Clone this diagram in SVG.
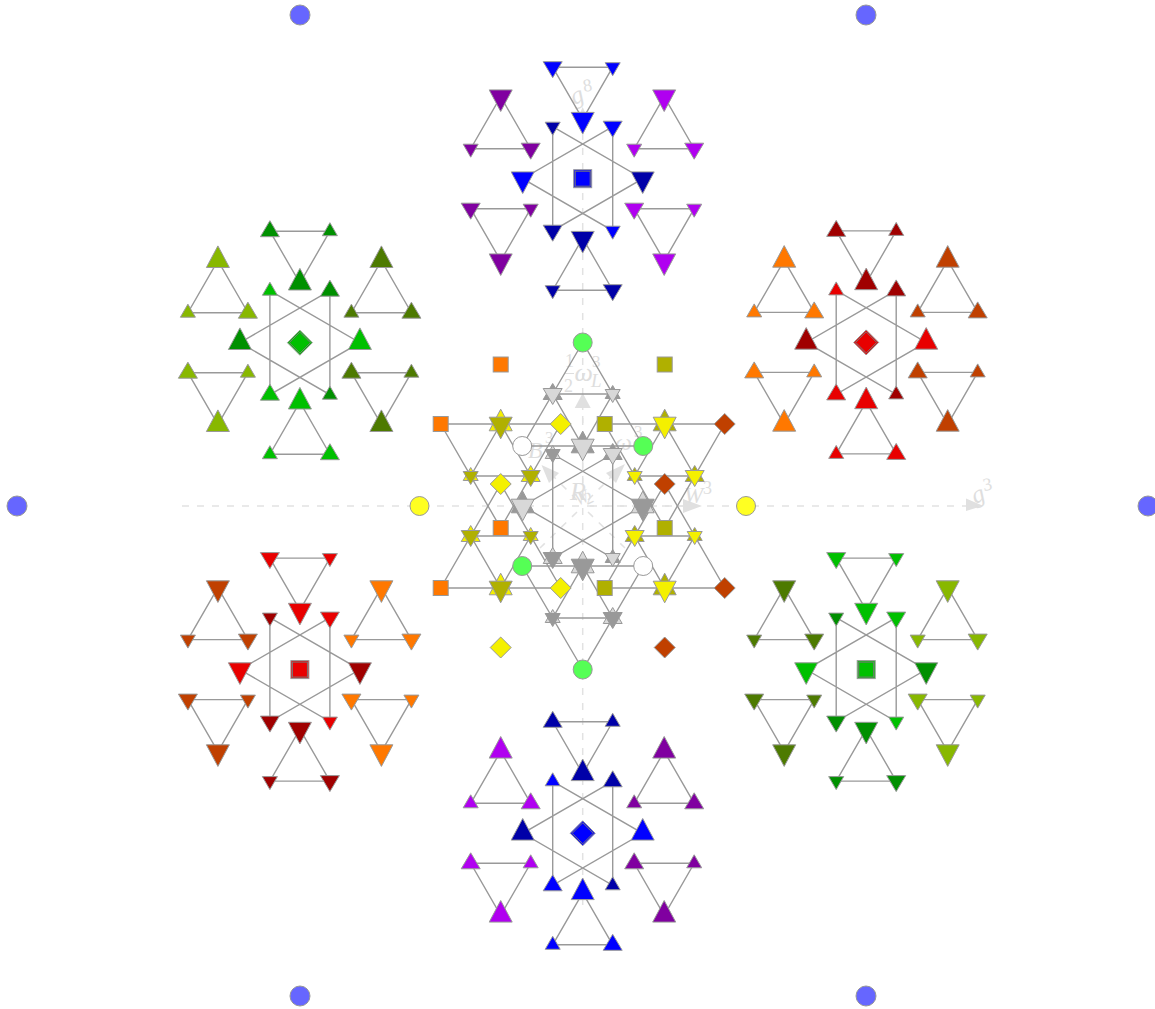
<svg xmlns="http://www.w3.org/2000/svg" width="1155" height="1009" viewBox="0 0 1155 1009">
<style>
.bg{fill:#fff}
.ax{fill:none;stroke:#e2e2e2;stroke-width:1.5;stroke-dasharray:7 8}
.ah{fill:#e0e0e0;stroke:none}
.lb{fill:#dedede;font-family:"Liberation Serif",serif;font-style:italic}
.nm{fill:#dedede;font-family:"Liberation Serif",serif}
.ed{fill:none;stroke:#999;stroke-width:1.4}
.sh{stroke:#999;stroke-width:1}
.in{stroke:none}
.mid{stroke:#777;stroke-width:1}
.blue{fill:#0000ff}.dblue{fill:#0000a8}.purple{fill:#8000a0}.magenta{fill:#b000f0}
.green{fill:#00c000}.dgreen{fill:#009000}.lime{fill:#88b800}.olgreen{fill:#4d7a00}
.red{fill:#e80000}.dred{fill:#a00000}.orange{fill:#ff7800}.rust{fill:#c04000}
.lg{fill:#d8d8d8}.dg{fill:#999}.ol{fill:#b0b000}.ye{fill:#f4f000}
.bc{fill:#6666ff}.gc{fill:#55ff55}.wc{fill:#fff}.yc{fill:#ffff22}
</style>
<defs>
<polygon id="dL" class="sh" points="-11.5,-6.8 11.5,-6.8 0,14.8"/>
<polygon id="dM" class="sh" points="-9.5,-5.5 9.5,-5.5 0,10.5"/>
<polygon id="dS" class="sh" points="-7.5,-4.5 7.5,-4.5 0,8.5"/>
<polygon id="uL" class="sh" points="-11.5,6.8 11.5,6.8 0,-14.8"/>
<polygon id="uM" class="sh" points="-9.5,5.5 9.5,5.5 0,-10.5"/>
<polygon id="uS" class="sh" points="-7.5,4.5 7.5,4.5 0,-8.5"/>
<rect id="sq" class="sh" x="-7.5" y="-7.5" width="15" height="15"/>
<polygon id="di" class="sh" points="0,-10.5 10.5,0 0,10.5 -10.5,0"/>
<circle id="cb" class="sh" r="10"/>
<circle id="cm" class="sh" r="9.5"/>
<g id="sq3"><rect class="sh" x="-9" y="-9" width="18" height="18"/><rect class="mid" x="-7.5" y="-7.5" width="15" height="15"/><rect class="in" x="-6.2" y="-6.2" width="12.4" height="12.4"/></g>
<g id="di3"><polygon class="sh" points="0,-12.5 12.5,0 0,12.5 -12.5,0"/><polygon class="mid" points="0,-10.5 10.5,0 0,10.5 -10.5,0"/><polygon class="in" points="0,-8.8 8.8,0 0,8.8 -8.8,0"/></g>
<path id="cluster-edges" d="M-30-111.5H30L0-59.5ZM-82-82L-112-30H-52ZM81.5-82L51.5-30H111.5ZM-112 30H-52L-82 82ZM51.5 30H111.5L81.5 82ZM0 59.5L-30 111.5H30ZM30-52L-60 0L30 52ZM-30-52L60 0L-30 52Z"/>
</defs>
<rect class="bg" width="1155" height="1009"/>

<g id="axes">
<path class="ax" d="M182 506H968"/>
<path class="ax" d="M582.7 905V120"/>
<path class="ax" d="M582.7 498V408M590 506H684M577 500L553 476M588 500L612 476M577 512L540 548M588 512L625 548"/>
<polygon class="ah" points="983,505.8 966,498.5 966,511"/>
<polygon class="ah" points="582.7,393 574.7,408 590.7,408"/>
<polygon class="ah" points="702,506 683,499 683,513"/>
<polygon class="ah" points="541.5,465 549,483 559,473"/>
<polygon class="ah" points="625,464 606,473 616,483"/>
<polygon class="ah" points="582.7,107 577,120 588.4,120"/>
</g>
<g id="labels">
<text class="lb" transform="translate(975 504) rotate(-22)" font-size="25">g</text>
<text class="nm" transform="translate(984 491) rotate(-10)" font-size="18">3</text>
<text class="lb" transform="translate(574 105) rotate(-22)" font-size="25">g</text>
<text class="nm" transform="translate(584 92) rotate(-10)" font-size="18">8</text>
<text class="nm" x="565" y="367" font-size="18">1</text>
<path d="M565 373.5H574" stroke="#dedede" fill="none"/>
<text class="nm" x="564" y="392" font-size="18">2</text>
<text class="lb" x="574.5" y="381" font-size="26">ω</text>
<text class="nm" x="592" y="367" font-size="17">3</text>
<text class="lb" x="591" y="387" font-size="19">L</text>
<text class="lb" x="528" y="458" font-size="24">B</text>
<text class="nm" x="545" y="443" font-size="17">3</text>
<text class="lb" x="615" y="450" font-size="24">ω</text>
<text class="nm" x="634" y="437" font-size="17">3</text>
<text class="lb" x="684" y="503" font-size="23">W</text>
<text class="nm" x="703" y="494" font-size="18">3</text>
<text class="lb" transform="translate(570 500)" font-size="26">R</text>
<text class="lb" transform="translate(578 506) rotate(-25) scale(.9 1)" font-size="18">W</text>
<text class="nm" transform="translate(587 505) rotate(-25)" font-size="17">2</text>
</g>

<g id="connectors" class="ed">
<use href="#cluster-edges" transform="translate(582.7 178.7)"/>
<use href="#cluster-edges" transform="translate(582.7 833.3)"/>
<use href="#cluster-edges" transform="translate(299.9 342.7)"/>
<use href="#cluster-edges" transform="translate(866.2 342.4)"/>
<use href="#cluster-edges" transform="translate(299.9 669.6)"/>
<use href="#cluster-edges" transform="translate(866.2 669.6)"/>
<path d="M612.7 454L522.7 506L612.7 558ZM552.7 454L642.7 506L552.7 558Z"/>
<path d="M582.7 342.5L522.2 446H643.2ZM552.7 394H612.7L582.7 446Z"/>
<path d="M582.7 669.5L522.2 566H643.2ZM552.7 618H612.7L582.7 566Z"/>
<path d="M440.7 424H560.7L500.7 528ZM500.7 424L470.7 476H530.7Z"/>
<path d="M604.7 424H724.7L664.7 528ZM664.7 424L634.7 476H694.7Z"/>
<path d="M500.7 484L440.7 588H560.7ZM470.7 536H530.7L500.7 588Z"/>
<path d="M664.7 484L604.7 588H724.7ZM634.7 536H694.7L664.7 588Z"/>
</g>

<g id="outer-points">
<g id="bc1"><use href="#cb" class="bc" x="300" y="15"/></g>
<g id="bc2"><use href="#cb" class="bc" x="866" y="15"/></g>
<g id="bc3"><use href="#cb" class="bc" x="17" y="506"/></g>
<g id="bc4"><use href="#cb" class="bc" x="1148" y="506"/></g>
<g id="bc5"><use href="#cb" class="bc" x="300" y="996"/></g>
<g id="bc6"><use href="#cb" class="bc" x="866" y="996"/></g>
<g id="yc1"><use href="#cm" class="yc" x="419.5" y="506"/></g>
<g id="yc2"><use href="#cm" class="yc" x="746" y="506"/></g>
<g id="gc1"><use href="#cm" class="gc" x="582.7" y="342.5"/></g>
<g id="gc2"><use href="#cm" class="gc" x="582.7" y="669.5"/></g>
<g id="wc1"><use href="#cm" class="wc" x="522.2" y="446"/></g>
<g id="gc3"><use href="#cm" class="gc" x="643.2" y="446"/></g>
<g id="gc4"><use href="#cm" class="gc" x="522.2" y="566"/></g>
<g id="wc2"><use href="#cm" class="wc" x="643.2" y="566"/></g>
<g id="s1"><use href="#sq" class="orange" x="500.7" y="364.5"/></g>
<g id="s2"><use href="#sq" class="ol" x="664.7" y="364.5"/></g>
<g id="s3"><use href="#sq" class="orange" x="440.7" y="424"/></g>
<g id="s4"><use href="#sq" class="ol" x="604.7" y="424"/></g>
<g id="s5"><use href="#sq" class="orange" x="500.7" y="528"/></g>
<g id="s6"><use href="#sq" class="ol" x="664.7" y="528"/></g>
<g id="s7"><use href="#sq" class="orange" x="440.7" y="588"/></g>
<g id="s8"><use href="#sq" class="ol" x="604.7" y="588"/></g>
<g id="d1"><use href="#di" class="ye" x="560.7" y="424"/></g>
<g id="d2"><use href="#di" class="rust" x="724.7" y="424"/></g>
<g id="d3"><use href="#di" class="ye" x="500.7" y="484"/></g>
<g id="d4"><use href="#di" class="rust" x="664.7" y="484"/></g>
<g id="d5"><use href="#di" class="ye" x="560.7" y="588"/></g>
<g id="d6"><use href="#di" class="rust" x="724.7" y="588"/></g>
<g id="d7"><use href="#di" class="ye" x="500.7" y="647.5"/></g>
<g id="d8"><use href="#di" class="rust" x="664.7" y="647.5"/></g>
</g>

<g id="centre-grey">
<g id="cg1"><use href="#uM" class="dg" x="552.7" y="394"/><use href="#dM" class="lg" x="552.7" y="394"/></g>
<g id="cg2"><use href="#uS" class="dg" x="612.7" y="394"/><use href="#dS" class="lg" x="612.7" y="394"/></g>
<g id="cg3"><use href="#uL" class="dg" x="582.7" y="446"/><use href="#dL" class="lg" x="582.7" y="446"/></g>
<g id="cg4"><use href="#uS" class="lg" x="552.7" y="454"/><use href="#dS" class="dg" x="552.7" y="454"/></g>
<g id="cg5"><use href="#uM" class="dg" x="612.7" y="454"/><use href="#dM" class="lg" x="612.7" y="454"/></g>
<g id="cg6"><use href="#uL" class="dg" x="522.7" y="506"/><use href="#dL" class="lg" x="522.7" y="506"/></g>
<g id="cg7"><use href="#uL" class="lg" x="642.7" y="506"/><use href="#dL" class="dg" x="642.7" y="506"/></g>
<g id="cg8"><use href="#uM" class="lg" x="552.7" y="558"/><use href="#dM" class="dg" x="552.7" y="558"/></g>
<g id="cg9"><use href="#uS" class="dg" x="612.7" y="558"/><use href="#dS" class="lg" x="612.7" y="558"/></g>
<g id="cg10"><use href="#uL" class="lg" x="582.7" y="566"/><use href="#dL" class="dg" x="582.7" y="566"/></g>
<g id="cg11"><use href="#uS" class="lg" x="552.7" y="618"/><use href="#dS" class="dg" x="552.7" y="618"/></g>
<g id="cg12"><use href="#uM" class="lg" x="612.7" y="618"/><use href="#dM" class="dg" x="612.7" y="618"/></g>
</g>

<g id="centre-yellow">
<g id="cy1"><use href="#uL" class="ye" x="500.7" y="424"/><use href="#dL" class="ol" x="500.7" y="424"/></g>
<g id="cy2"><use href="#uS" class="ye" x="470.7" y="476"/><use href="#dS" class="ol" x="470.7" y="476"/></g>
<g id="cy3"><use href="#uM" class="ye" x="530.7" y="476"/><use href="#dM" class="ol" x="530.7" y="476"/></g>
<g id="cy4"><use href="#uL" class="ol" x="664.7" y="424"/><use href="#dL" class="ye" x="664.7" y="424"/></g>
<g id="cy5"><use href="#uS" class="ol" x="634.7" y="476"/><use href="#dS" class="ye" x="634.7" y="476"/></g>
<g id="cy6"><use href="#uM" class="ol" x="694.7" y="476"/><use href="#dM" class="ye" x="694.7" y="476"/></g>
<g id="cy7"><use href="#uM" class="ye" x="470.7" y="536"/><use href="#dM" class="ol" x="470.7" y="536"/></g>
<g id="cy8"><use href="#uS" class="ye" x="530.7" y="536"/><use href="#dS" class="ol" x="530.7" y="536"/></g>
<g id="cy9"><use href="#uL" class="ye" x="500.7" y="588"/><use href="#dL" class="ol" x="500.7" y="588"/></g>
<g id="cy10"><use href="#uM" class="ol" x="634.7" y="536"/><use href="#dM" class="ye" x="634.7" y="536"/></g>
<g id="cy11"><use href="#uS" class="ol" x="694.7" y="536"/><use href="#dS" class="ye" x="694.7" y="536"/></g>
<g id="cy12"><use href="#uL" class="ol" x="664.7" y="588"/><use href="#dL" class="ye" x="664.7" y="588"/></g>
</g>

<g id="cluster-top" transform="translate(582.7 178.7)">
<g id="t0"><use href="#sq3" class="blue"/></g>
<g id="t1"><use href="#dM" class="blue" x="-30" y="-111.5"/></g><g id="t2"><use href="#dS" class="blue" x="30" y="-111.5"/></g><g id="t3"><use href="#dL" class="blue" y="-59.5"/></g>
<g id="t4"><use href="#dL" class="purple" x="-82" y="-82"/></g><g id="t5"><use href="#dS" class="purple" x="-112" y="-30"/></g><g id="t6"><use href="#dM" class="purple" x="-52" y="-30"/></g>
<g id="t7"><use href="#dL" class="magenta" x="81.5" y="-82"/></g><g id="t8"><use href="#dS" class="magenta" x="51.5" y="-30"/></g><g id="t9"><use href="#dM" class="magenta" x="111.5" y="-30"/></g>
<g id="t10"><use href="#dS" class="dblue" x="-30" y="-52"/></g><g id="t11"><use href="#dM" class="blue" x="30" y="-52"/></g><g id="t12"><use href="#dL" class="blue" x="-60"/></g><g id="t13"><use href="#dL" class="dblue" x="60"/></g><g id="t14"><use href="#dM" class="dblue" x="-30" y="52"/></g><g id="t15"><use href="#dS" class="blue" x="30" y="52"/></g>
<g id="t16"><use href="#dM" class="purple" x="-112" y="30"/></g><g id="t17"><use href="#dS" class="purple" x="-52" y="30"/></g><g id="t18"><use href="#dL" class="purple" x="-82" y="82"/></g>
<g id="t19"><use href="#dM" class="magenta" x="51.5" y="30"/></g><g id="t20"><use href="#dS" class="magenta" x="111.5" y="30"/></g><g id="t21"><use href="#dL" class="magenta" x="81.5" y="82"/></g>
<g id="t22"><use href="#dL" class="dblue" y="59.5"/></g><g id="t23"><use href="#dS" class="dblue" x="-30" y="111.5"/></g><g id="t24"><use href="#dM" class="dblue" x="30" y="111.5"/></g>
</g>

<g id="cluster-bottom" transform="translate(582.7 833.3)">
<g id="b0"><use href="#di3" class="blue"/></g>
<g id="b1"><use href="#uM" class="dblue" x="-30" y="-111.5"/></g><g id="b2"><use href="#uS" class="dblue" x="30" y="-111.5"/></g><g id="b3"><use href="#uL" class="dblue" y="-59.5"/></g>
<g id="b4"><use href="#uL" class="magenta" x="-82" y="-82"/></g><g id="b5"><use href="#uS" class="magenta" x="-112" y="-30"/></g><g id="b6"><use href="#uM" class="magenta" x="-52" y="-30"/></g>
<g id="b7"><use href="#uL" class="purple" x="81.5" y="-82"/></g><g id="b8"><use href="#uS" class="purple" x="51.5" y="-30"/></g><g id="b9"><use href="#uM" class="purple" x="111.5" y="-30"/></g>
<g id="b10"><use href="#uS" class="blue" x="-30" y="-52"/></g><g id="b11"><use href="#uM" class="dblue" x="30" y="-52"/></g><g id="b12"><use href="#uL" class="dblue" x="-60"/></g><g id="b13"><use href="#uL" class="blue" x="60"/></g><g id="b14"><use href="#uM" class="blue" x="-30" y="52"/></g><g id="b15"><use href="#uS" class="dblue" x="30" y="52"/></g>
<g id="b16"><use href="#uM" class="magenta" x="-112" y="30"/></g><g id="b17"><use href="#uS" class="magenta" x="-52" y="30"/></g><g id="b18"><use href="#uL" class="magenta" x="-82" y="82"/></g>
<g id="b19"><use href="#uM" class="purple" x="51.5" y="30"/></g><g id="b20"><use href="#uS" class="purple" x="111.5" y="30"/></g><g id="b21"><use href="#uL" class="purple" x="81.5" y="82"/></g>
<g id="b22"><use href="#uL" class="blue" y="59.5"/></g><g id="b23"><use href="#uS" class="blue" x="-30" y="111.5"/></g><g id="b24"><use href="#uM" class="blue" x="30" y="111.5"/></g>
</g>

<g id="cluster-left-top" transform="translate(299.9 342.7)">
<g id="lt0"><use href="#di3" class="green"/></g>
<g id="lt1"><use href="#uM" class="dgreen" x="-30" y="-111.5"/></g><g id="lt2"><use href="#uS" class="dgreen" x="30" y="-111.5"/></g><g id="lt3"><use href="#uL" class="dgreen" y="-59.5"/></g>
<g id="lt4"><use href="#uL" class="lime" x="-82" y="-82"/></g><g id="lt5"><use href="#uS" class="lime" x="-112" y="-30"/></g><g id="lt6"><use href="#uM" class="lime" x="-52" y="-30"/></g>
<g id="lt7"><use href="#uL" class="olgreen" x="81.5" y="-82"/></g><g id="lt8"><use href="#uS" class="olgreen" x="51.5" y="-30"/></g><g id="lt9"><use href="#uM" class="olgreen" x="111.5" y="-30"/></g>
<g id="lt10"><use href="#uS" class="green" x="-30" y="-52"/></g><g id="lt11"><use href="#uM" class="dgreen" x="30" y="-52"/></g><g id="lt12"><use href="#uL" class="dgreen" x="-60"/></g><g id="lt13"><use href="#uL" class="green" x="60"/></g><g id="lt14"><use href="#uM" class="green" x="-30" y="52"/></g><g id="lt15"><use href="#uS" class="dgreen" x="30" y="52"/></g>
<g id="lt16"><use href="#uM" class="lime" x="-112" y="30"/></g><g id="lt17"><use href="#uS" class="lime" x="-52" y="30"/></g><g id="lt18"><use href="#uL" class="lime" x="-82" y="82"/></g>
<g id="lt19"><use href="#uM" class="olgreen" x="51.5" y="30"/></g><g id="lt20"><use href="#uS" class="olgreen" x="111.5" y="30"/></g><g id="lt21"><use href="#uL" class="olgreen" x="81.5" y="82"/></g>
<g id="lt22"><use href="#uL" class="green" y="59.5"/></g><g id="lt23"><use href="#uS" class="green" x="-30" y="111.5"/></g><g id="lt24"><use href="#uM" class="green" x="30" y="111.5"/></g>
</g>

<g id="cluster-right-top" transform="translate(866.2 342.4)">
<g id="rt0"><use href="#di3" class="red"/></g>
<g id="rt1"><use href="#uM" class="dred" x="-30" y="-111.5"/></g><g id="rt2"><use href="#uS" class="dred" x="30" y="-111.5"/></g><g id="rt3"><use href="#uL" class="dred" y="-59.5"/></g>
<g id="rt4"><use href="#uL" class="orange" x="-82" y="-82"/></g><g id="rt5"><use href="#uS" class="orange" x="-112" y="-30"/></g><g id="rt6"><use href="#uM" class="orange" x="-52" y="-30"/></g>
<g id="rt7"><use href="#uL" class="rust" x="81.5" y="-82"/></g><g id="rt8"><use href="#uS" class="rust" x="51.5" y="-30"/></g><g id="rt9"><use href="#uM" class="rust" x="111.5" y="-30"/></g>
<g id="rt10"><use href="#uS" class="red" x="-30" y="-52"/></g><g id="rt11"><use href="#uM" class="dred" x="30" y="-52"/></g><g id="rt12"><use href="#uL" class="dred" x="-60"/></g><g id="rt13"><use href="#uL" class="red" x="60"/></g><g id="rt14"><use href="#uM" class="red" x="-30" y="52"/></g><g id="rt15"><use href="#uS" class="dred" x="30" y="52"/></g>
<g id="rt16"><use href="#uM" class="orange" x="-112" y="30"/></g><g id="rt17"><use href="#uS" class="orange" x="-52" y="30"/></g><g id="rt18"><use href="#uL" class="orange" x="-82" y="82"/></g>
<g id="rt19"><use href="#uM" class="rust" x="51.5" y="30"/></g><g id="rt20"><use href="#uS" class="rust" x="111.5" y="30"/></g><g id="rt21"><use href="#uL" class="rust" x="81.5" y="82"/></g>
<g id="rt22"><use href="#uL" class="red" y="59.5"/></g><g id="rt23"><use href="#uS" class="red" x="-30" y="111.5"/></g><g id="rt24"><use href="#uM" class="red" x="30" y="111.5"/></g>
</g>

<g id="cluster-left-bottom" transform="translate(299.9 669.6)">
<g id="lb0"><use href="#sq3" class="red"/></g>
<g id="lb1"><use href="#dM" class="red" x="-30" y="-111.5"/></g><g id="lb2"><use href="#dS" class="red" x="30" y="-111.5"/></g><g id="lb3"><use href="#dL" class="red" y="-59.5"/></g>
<g id="lb4"><use href="#dL" class="rust" x="-82" y="-82"/></g><g id="lb5"><use href="#dS" class="rust" x="-112" y="-30"/></g><g id="lb6"><use href="#dM" class="rust" x="-52" y="-30"/></g>
<g id="lb7"><use href="#dL" class="orange" x="81.5" y="-82"/></g><g id="lb8"><use href="#dS" class="orange" x="51.5" y="-30"/></g><g id="lb9"><use href="#dM" class="orange" x="111.5" y="-30"/></g>
<g id="lb10"><use href="#dS" class="dred" x="-30" y="-52"/></g><g id="lb11"><use href="#dM" class="red" x="30" y="-52"/></g><g id="lb12"><use href="#dL" class="red" x="-60"/></g><g id="lb13"><use href="#dL" class="dred" x="60"/></g><g id="lb14"><use href="#dM" class="dred" x="-30" y="52"/></g><g id="lb15"><use href="#dS" class="red" x="30" y="52"/></g>
<g id="lb16"><use href="#dM" class="rust" x="-112" y="30"/></g><g id="lb17"><use href="#dS" class="rust" x="-52" y="30"/></g><g id="lb18"><use href="#dL" class="rust" x="-82" y="82"/></g>
<g id="lb19"><use href="#dM" class="orange" x="51.5" y="30"/></g><g id="lb20"><use href="#dS" class="orange" x="111.5" y="30"/></g><g id="lb21"><use href="#dL" class="orange" x="81.5" y="82"/></g>
<g id="lb22"><use href="#dL" class="dred" y="59.5"/></g><g id="lb23"><use href="#dS" class="dred" x="-30" y="111.5"/></g><g id="lb24"><use href="#dM" class="dred" x="30" y="111.5"/></g>
</g>

<g id="cluster-right-bottom" transform="translate(866.2 669.6)">
<g id="rb0"><use href="#sq3" class="green"/></g>
<g id="rb1"><use href="#dM" class="green" x="-30" y="-111.5"/></g><g id="rb2"><use href="#dS" class="green" x="30" y="-111.5"/></g><g id="rb3"><use href="#dL" class="green" y="-59.5"/></g>
<g id="rb4"><use href="#dL" class="olgreen" x="-82" y="-82"/></g><g id="rb5"><use href="#dS" class="olgreen" x="-112" y="-30"/></g><g id="rb6"><use href="#dM" class="olgreen" x="-52" y="-30"/></g>
<g id="rb7"><use href="#dL" class="lime" x="81.5" y="-82"/></g><g id="rb8"><use href="#dS" class="lime" x="51.5" y="-30"/></g><g id="rb9"><use href="#dM" class="lime" x="111.5" y="-30"/></g>
<g id="rb10"><use href="#dS" class="dgreen" x="-30" y="-52"/></g><g id="rb11"><use href="#dM" class="green" x="30" y="-52"/></g><g id="rb12"><use href="#dL" class="green" x="-60"/></g><g id="rb13"><use href="#dL" class="dgreen" x="60"/></g><g id="rb14"><use href="#dM" class="dgreen" x="-30" y="52"/></g><g id="rb15"><use href="#dS" class="green" x="30" y="52"/></g>
<g id="rb16"><use href="#dM" class="olgreen" x="-112" y="30"/></g><g id="rb17"><use href="#dS" class="olgreen" x="-52" y="30"/></g><g id="rb18"><use href="#dL" class="olgreen" x="-82" y="82"/></g>
<g id="rb19"><use href="#dM" class="lime" x="51.5" y="30"/></g><g id="rb20"><use href="#dS" class="lime" x="111.5" y="30"/></g><g id="rb21"><use href="#dL" class="lime" x="81.5" y="82"/></g>
<g id="rb22"><use href="#dL" class="dgreen" y="59.5"/></g><g id="rb23"><use href="#dS" class="dgreen" x="-30" y="111.5"/></g><g id="rb24"><use href="#dM" class="dgreen" x="30" y="111.5"/></g>
</g>
</svg>
